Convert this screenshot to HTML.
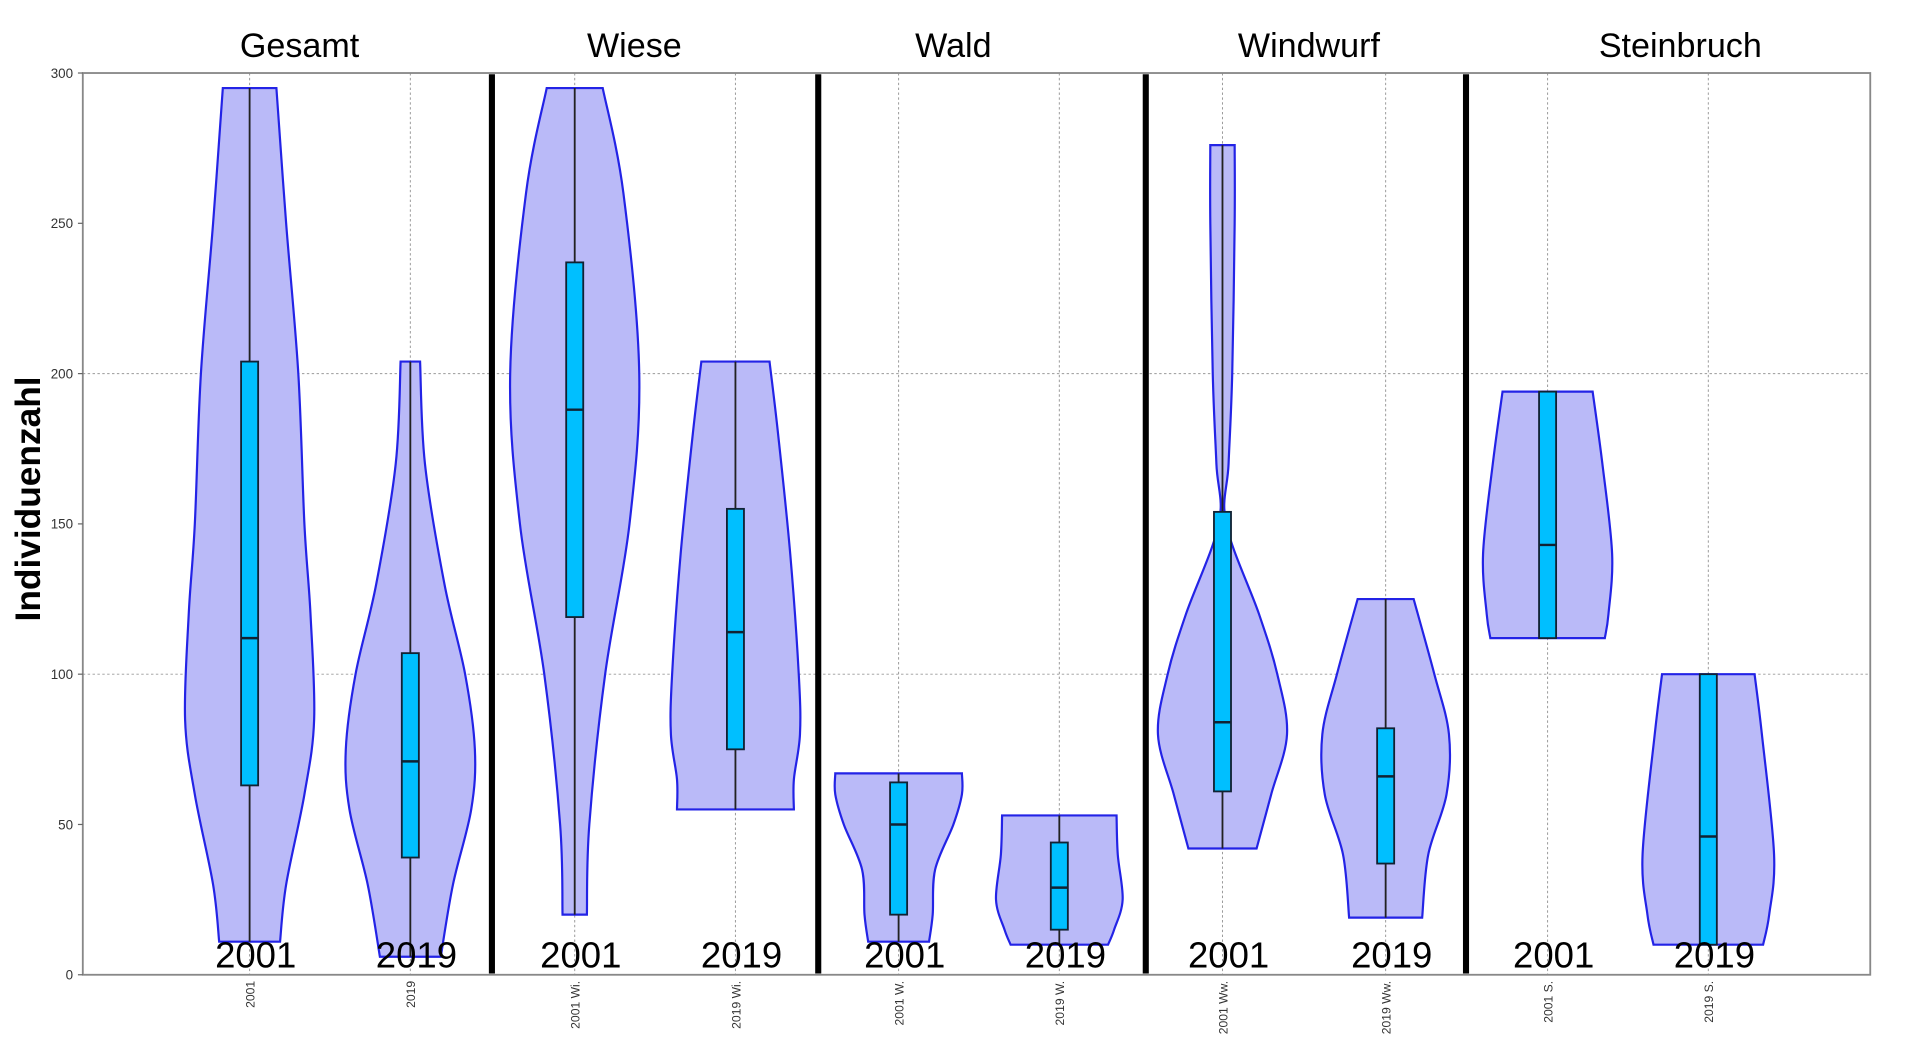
<!DOCTYPE html>
<html><head><meta charset="utf-8"><style>html,body{margin:0;padding:0;background:#fff}svg{display:block}</style></head>
<body>
<svg id="s" width="1908" height="1049" viewBox="0 0 1567 862" preserveAspectRatio="none" xmlns="http://www.w3.org/2000/svg" font-family="Liberation Sans, sans-serif">
<rect x="0" y="0" width="1567" height="862" fill="#fff"/>
<g id="grid" stroke="#999" stroke-width="0.8" stroke-dasharray="2,2"></g>
<g id="vio"></g>
<rect x="68" y="60" width="1468" height="741" fill="none" stroke="#888" stroke-width="1.5"/>
<g stroke="#000" stroke-width="5">
<line x1="404" y1="61" x2="404" y2="800"/><line x1="672" y1="61" x2="672" y2="800"/>
<line x1="941" y1="61" x2="941" y2="800"/><line x1="1204" y1="61" x2="1204" y2="800"/>
</g>
<g id="ticks" font-size="11" fill="#333" text-anchor="end"></g>
<g font-size="28" text-anchor="middle" fill="#000">
<text x="246" y="47">Gesamt</text><text x="521" y="47">Wiese</text><text x="783" y="47">Wald</text><text x="1075" y="47">Windwurf</text><text x="1380" y="47">Steinbruch</text>
</g>
<text transform="translate(33,410) rotate(-90)" font-size="29" font-weight="bold" text-anchor="middle">Individuenzahl</text>
<g id="years" font-size="30" text-anchor="middle"></g>
<g id="xl" font-size="10" fill="#333" text-anchor="end"></g>
</svg>
<script>
const NS="http://www.w3.org/2000/svg";
function el(p,t,a,txt){const e=document.createElementNS(NS,t);for(const k in a)e.setAttribute(k,a[k]);if(txt!==undefined)e.textContent=txt;document.getElementById(p).appendChild(e);return e;}
const Y=v=>801-v*2.47;
[100,200].forEach(v=>el("grid","line",{x1:68,x2:1536,y1:Y(v),y2:Y(v)}));
const cx=[205,337,472,604,738,870,1004,1138,1271,1403];
cx.forEach(x=>el("grid","line",{x1:x,x2:x,y1:60,y2:801}));
[0,50,100,150,200,250,300].forEach(v=>{el("ticks","text",{x:60,y:Y(v)+4},v);el("ticks","line",{x1:64,x2:68,y1:Y(v),y2:Y(v),stroke:"#666"});});
const names=["2001","2019","2001 Wi.","2019 Wi.","2001 W.","2019 W.","2001 Ww.","2019 Ww.","2001 S.","2019 S."];
cx.forEach((x,i)=>{el("years","text",{x:x+5,y:795},i%2?"2019":"2001");el("xl","text",{transform:`translate(${x+4},806) rotate(-90)`},names[i]);});
const V=[
[205,[[295,22],[250,30],[200,40],[150,45],[120,50],[85,53],[60,45],[30,30],[11,25]],[63,112,204],11,295],
[337,[[204,8],[170,12],[130,28],[100,45],[75,53],[55,50],[30,35],[6,25]],[39,71,107],6,204],
[472,[[295,23],[260,40],[200,53],[150,45],[100,25],[50,12],[20,10]],[119,188,237],20,295],
[604,[[204,28],[180,35],[140,45],[100,52],[80,53],[65,48],[55,48]],[75,114,155],55,204],
[738,[[67,52],[60,52],[50,45],[35,30],[20,28],[11,25]],[20,50,64],11,67],
[870,[[53,47],[40,48],[25,52],[15,45],[10,40]],[15,29,44],10,53],
[1004,[[276,10],[250,10],[200,8],[170,5],[150,3],[120,30],[100,45],[80,53],[60,40],[42,28]],[61,84,154],42,276],
[1138,[[125,23],[100,40],[80,52],[60,50],[40,35],[19,30]],[37,66,82],19,125],
[1271,[[194,37],[170,45],[140,53],[120,50],[112,47]],[112,143,194],112,194],
[1403,[[100,38],[80,44],[40,54],[20,50],[10,45]],[10,46,100],10,100]];
function smooth(pts){let d=`M${pts[0][0]},${pts[0][1]}`;for(let i=0;i<pts.length-1;i++){const p0=pts[i-1]||pts[i],p1=pts[i],p2=pts[i+1],p3=pts[i+2]||p2;
d+=` C${p1[0]+(p2[0]-p0[0])/6},${p1[1]+(p2[1]-p0[1])/6} ${p2[0]-(p3[0]-p1[0])/6},${p2[1]-(p3[1]-p1[1])/6} ${p2[0]},${p2[1]}`;}return d;}
V.forEach(([c,w,b,lo,hi])=>{
const R=w.map(([v,h])=>[c+h,Y(v)]),L=w.slice().reverse().map(([v,h])=>[c-h,Y(v)]);
let d=smooth(R);d+=" L"+L[0][0]+","+L[0][1]+smooth(L).replace(/^M[^C]*/,"")+" Z";
el("vio","path",{d:d,fill:"#babaf8",stroke:"#2323e6","stroke-width":1.8});
el("vio","line",{x1:c,x2:c,y1:Y(hi),y2:Y(lo),stroke:"#222","stroke-width":1.5});
el("vio","rect",{x:c-7,y:Y(b[2]),width:14,height:Y(b[0])-Y(b[2]),fill:"#00bfff",stroke:"#123","stroke-width":1.5});
el("vio","line",{x1:c-7,x2:c+7,y1:Y(b[1]),y2:Y(b[1]),stroke:"#123","stroke-width":2});
});
</script>
</body></html>
